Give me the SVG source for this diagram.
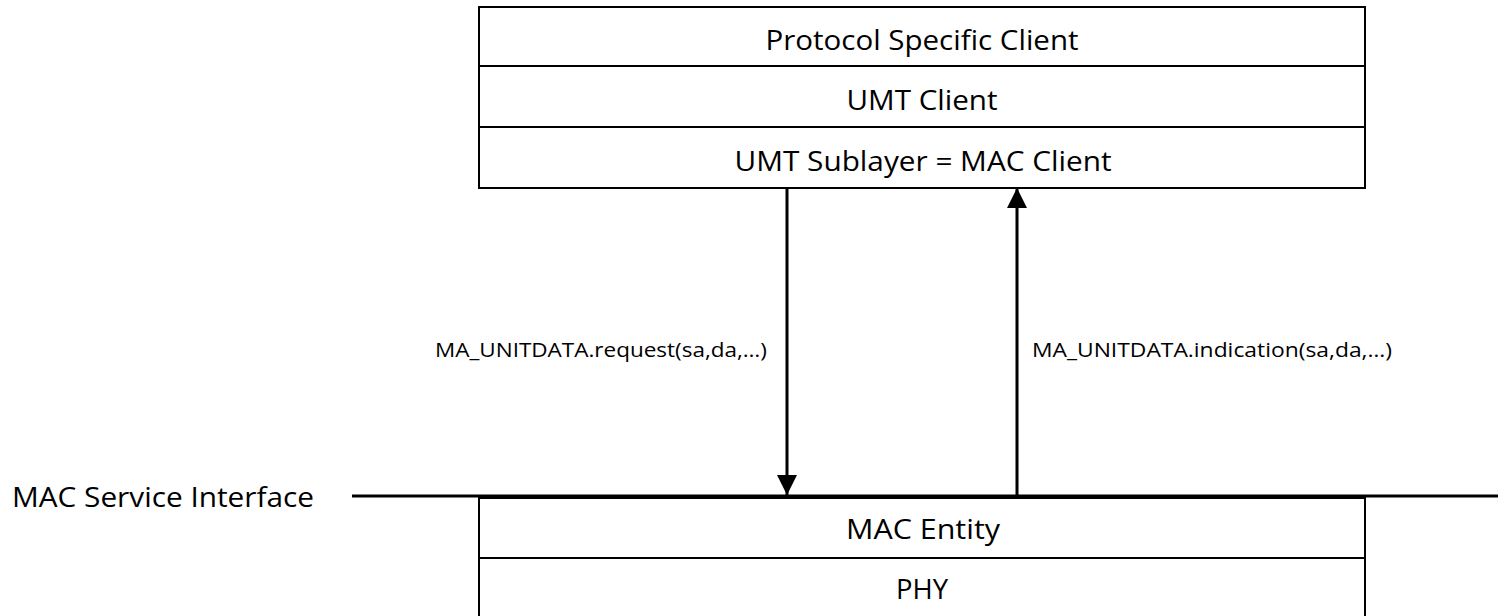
<svg xmlns="http://www.w3.org/2000/svg" width="1498" height="616" viewBox="0 0 1498 616">
<defs>
<style>
.box{fill:#fff;stroke:#000;stroke-width:2}
.div{stroke:#000;stroke-width:2}
.t{font-family:"Open Sans","Liberation Sans",sans-serif;font-size:28px;fill:#000;text-anchor:middle}
.lbl{font-family:"Open Sans","Liberation Sans",sans-serif;font-size:20px;fill:#000}
.conn{stroke:#000;stroke-width:3;fill:none}
</style>
<marker id="ah" viewBox="0 0 20 20" refX="20" refY="10" markerWidth="20" markerHeight="20" markerUnits="userSpaceOnUse" orient="auto">
<path d="M0,0 L20,10 L0,20 Z" fill="#000"/>
</marker>
</defs>
<g id="client-stack">
<rect class="box" x="479" y="7" width="886" height="181"/>
<line class="div" x1="479" y1="66" x2="1365" y2="66"/>
<line class="div" x1="479" y1="127" x2="1365" y2="127"/>
<text class="t" x="922" y="50" textLength="313" lengthAdjust="spacingAndGlyphs">Protocol Specific Client</text>
<text class="t" x="922" y="110" textLength="151" lengthAdjust="spacingAndGlyphs">UMT Client</text>
<text class="t" x="923" y="171" textLength="377" lengthAdjust="spacingAndGlyphs">UMT Sublayer = MAC Client</text>
</g>
<g id="mac-stack">
<rect class="box" x="479" y="498" width="886" height="130"/>
<line class="div" x1="479" y1="558" x2="1365" y2="558"/>
<text class="t" x="923" y="539" textLength="154" lengthAdjust="spacingAndGlyphs">MAC Entity</text>
<text class="t" x="922" y="599" textLength="52" lengthAdjust="spacingAndGlyphs">PHY</text>
</g>
<g id="interface">
<text x="12" y="507" textLength="302" lengthAdjust="spacingAndGlyphs" style="font-family:'Open Sans','Liberation Sans',sans-serif;font-size:28px;fill:#000">MAC Service Interface</text>
</g>
<g id="connectors">
<line class="conn" x1="352" y1="496" x2="1498" y2="496"/>
<line class="conn" x1="787" y1="188" x2="787" y2="495" marker-end="url(#ah)"/>
<line class="conn" x1="1017" y1="495" x2="1017" y2="188" marker-end="url(#ah)"/>
<text class="lbl" x="435" y="357" textLength="332" lengthAdjust="spacingAndGlyphs">MA_UNITDATA.request(sa,da,…)</text>
<text class="lbl" x="1032" y="357" textLength="360" lengthAdjust="spacingAndGlyphs">MA_UNITDATA.indication(sa,da,…)</text>
</g>
</svg>
